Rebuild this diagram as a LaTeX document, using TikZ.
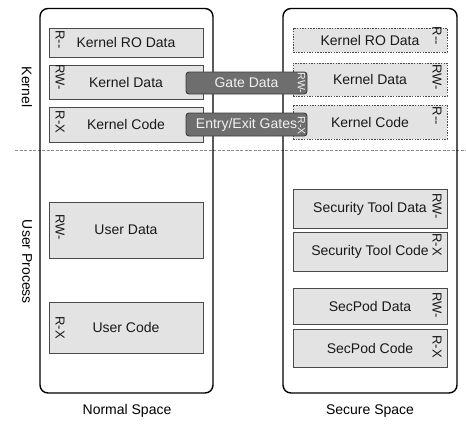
\documentclass[tikz,border=0pt]{standalone}
\usepackage{fontspec}
\newfontfamily\labelfont{Liberation Sans}
\usetikzlibrary{positioning}

\definecolor{boxfill}{HTML}{E3E3E3}
\definecolor{boxline}{HTML}{4A4A4A}
\definecolor{gatefill}{HTML}{6E6E6E}
\definecolor{gateline}{HTML}{3C3C3C}
\definecolor{gatetext}{HTML}{F2F2F2}
\definecolor{splitline}{HTML}{8C8C8C}

\tikzset{
	spacebox/.style={draw=black, line width=1.4pt, rounded corners=8pt, inner sep=0pt, minimum width=173pt},
	membox/.style={draw=boxline, fill=boxfill, line width=0.9pt, inner sep=0pt, minimum width=154pt, text=black!90, font=\labelfont\fontsize{14}{16}\selectfont},
	shadowbox/.style={membox, dash pattern=on 1.5pt off 1.2pt},
	gatebox/.style={draw=gateline, fill=gatefill, line width=0.9pt, rounded corners=3pt, inner sep=0pt, minimum width=121pt, text=gatetext, font=\labelfont\fontsize{14}{16}\selectfont},
	perm/.style={rotate=-90, inner sep=0pt, text=black!90, font=\labelfont\fontsize{13}{14}\selectfont},
	gateperm/.style={perm, text=gatetext, font=\labelfont\fontsize{10.5}{11}\selectfont},
	sidelabel/.style={rotate=-90, inner sep=0pt, font=\labelfont\fontsize{14}{16}\selectfont},
	spacelabel/.style={inner sep=0pt, font=\labelfont\fontsize{14}{16}\selectfont}
}

\begin{document}
\begin{tikzpicture}[x=1pt, y=-1pt]
	\useasboundingbox (0,0) rectangle (466,424);
	% kernel / user split
	\coordinate (splitL) at (15,150);
	\coordinate (splitR) at (466,150);
	\draw[splitline, line width=0.9pt, dash pattern=on 3pt off 1.5pt] (splitL) -- (splitR);

	% the two spaces
	\node[spacebox, minimum height=384.5pt] (normal) at (126.5,200.75) {};
	\node[spacebox, minimum height=384.5pt, minimum width=174pt] (secure) at (370,200.75) {};
	\node[spacelabel] (normallbl) at (127,411) {Normal Space};
	\node[spacelabel] (securelbl) at (370,411) {Secure Space};
	\node[sidelabel] (kernlbl) at (27,87) {Kernel};
	\node[sidelabel] (userlbl) at (27,262) {User Process};

	% normal space memory
	\node[membox, minimum height=29pt] (kro) at (126,42.5) {Kernel RO Data};
	\node[membox, minimum height=34pt] (kdata) at (126,82) {Kernel Data};
	\node[membox, minimum height=35pt] (kcode) at (126,124.5) {Kernel Code};
	\node[membox, minimum height=56pt] (udata) at (126,230) {User Data};
	\node[membox, minimum height=51pt] (ucode) at (126,327.5) {User Code};
	\node[perm] (kroP) at (60,39.5) {R-{}-};
	\node[perm] (kdataP) at (60,77) {RW-};
	\node[perm] (kcodeP) at (60,122) {R-X};
	\node[perm] (udataP) at (60,227.5) {RW-};
	\node[perm] (ucodeP) at (60,327.5) {R-X};

	% secure space memory
	\node[shadowbox, minimum height=24pt] (sro) at (370,40) {Kernel RO Data};
	\node[shadowbox, minimum height=33pt] (sdata) at (370,79.5) {Kernel Data};
	\node[shadowbox, minimum height=34pt] (scode) at (370,122) {Kernel Code};
	\node[membox, minimum height=39pt] (tdata) at (370,208.5) {Security Tool Data};
	\node[membox, minimum height=39pt] (tcode) at (370,251.5) {Security Tool Code};
	\node[membox, minimum height=36pt] (pdata) at (370,306) {SecPod Data};
	\node[membox, minimum height=38pt] (pcode) at (370,348) {SecPod Code};
	\node[perm] (sroP) at (437,36) {R-{}-};
	\node[perm] (sdataP) at (437,77.5) {RW-};
	\node[perm] (scodeP) at (437,116) {R-{}-};
	\node[perm] (tdataP) at (437,206) {RW-};
	\node[perm] (tcodeP) at (437,244.5) {R-X};
	\node[perm] (pdataP) at (437,305) {RW-};
	\node[perm] (pcodeP) at (437,346.5) {R-X};

	% gates
	\node[gatebox, minimum height=22pt] (gdata) at (246.5,83) {Gate Data};
	\node[gatebox, minimum height=23pt] (gentry) at (246.5,124.5) {Entry/Exit Gates};
	\node[gateperm] (gdataP) at (301.5,83) {RW-};
	\node[gateperm] (gentryP) at (301.5,125.5) {R-X};
\end{tikzpicture}
\end{document}
